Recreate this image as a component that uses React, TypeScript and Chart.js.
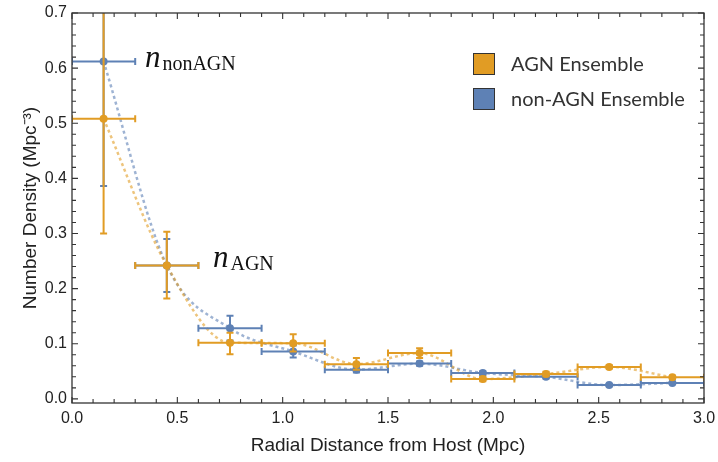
import React, { useEffect, useRef } from "react";
import { Chart, registerables } from "chart.js";

Chart.register(...registerables);

// ---- data ----
const binCenters = [0.15, 0.45, 0.75, 1.05, 1.35, 1.65, 1.95, 2.25, 2.55, 2.85];
const binLow = [0.0, 0.3, 0.6, 0.9, 1.2, 1.5, 1.8, 2.1, 2.4, 2.7];
const binHigh = [0.3, 0.6, 0.9, 1.2, 1.5, 1.8, 2.1, 2.4, 2.7, 3.0];

const agnDensity = [0.508, 0.242, 0.102, 0.101, 0.063, 0.083, 0.036, 0.045, 0.058, 0.039];
const agnLow = [0.3, 0.182, 0.081, 0.086, 0.053, 0.074, 0.032, 0.041, 0.055, 0.036];
const agnHigh = [0.716, 0.303, 0.12, 0.117, 0.074, 0.092, 0.04, 0.049, 0.061, 0.042];

const nonAgnDensity = [0.612, 0.242, 0.128, 0.086, 0.053, 0.064, 0.047, 0.04, 0.025, 0.029];
const nonAgnLow = [0.386, 0.194, 0.106, 0.075, 0.048, 0.06, 0.043, 0.037, 0.023, 0.027];
const nonAgnHigh = [0.838, 0.29, 0.151, 0.097, 0.058, 0.068, 0.05, 0.043, 0.027, 0.031];

const xTicks = [0, 0.5, 1.0, 1.5, 2.0, 2.5, 3.0];
const yTicks = [0, 0.1, 0.2, 0.3, 0.4, 0.5, 0.6, 0.7];
const xMinorStep = 0.1;
const yMinorStep = 0.02;

const seriesNames = ["AGN Ensemble", "non-AGN Ensemble"];
const annotations = [
  { x: 0.346, y: 0.602, main: "n", sub: "nonAGN" },
  { x: 0.669, y: 0.24, main: "n", sub: "AGN" },
];

const xTitle = "Radial Distance from Host (Mpc)";
const yTitle = "Number Density (Mpc\u207B\u00B3)";

// ---- styles ----
const ORANGE = "#E19C24";
const BLUE = "#5E81B5";
const ORANGE_DOT = "rgba(225,156,36,0.6)";
const BLUE_DOT = "rgba(94,129,181,0.6)";
const SANS = '"Liberation Sans", Arial, Helvetica, sans-serif';
const SERIF = '"Liberation Serif", "DejaVu Serif", serif';

const errorBarPlugin = {
  id: "errorBars",
  beforeDatasetDraw(chart: any, args: any) {
    const ds: any = chart.data.datasets[args.index];
    if (!ds.errLow) return;
    const xs = chart.scales.x;
    const ys = chart.scales.y;
    const area = chart.chartArea;
    const ctx = chart.ctx;
    ctx.save();
    ctx.beginPath();
    ctx.rect(area.left, area.top, area.right - area.left, area.bottom - area.top);
    ctx.clip();
    ctx.strokeStyle = ds.barColor;
    ctx.lineWidth = 2;
    const cap = 3.5;
    for (let i = 0; i < ds.data.length; i++) {
      const p = ds.data[i];
      const cx = xs.getPixelForValue(p.x);
      const cy = ys.getPixelForValue(p.y);
      const x1 = xs.getPixelForValue(ds.xLow[i]);
      const x2 = xs.getPixelForValue(ds.xHigh[i]);
      const y1 = ys.getPixelForValue(ds.errLow[i]);
      const y2 = ys.getPixelForValue(ds.errHigh[i]);
      ctx.beginPath();
      ctx.moveTo(x1, cy);
      ctx.lineTo(x2, cy);
      ctx.moveTo(x1, cy - cap);
      ctx.lineTo(x1, cy + cap);
      ctx.moveTo(x2, cy - cap);
      ctx.lineTo(x2, cy + cap);
      ctx.moveTo(cx, y1);
      ctx.lineTo(cx, y2);
      ctx.moveTo(cx - cap, y1);
      ctx.lineTo(cx + cap, y1);
      ctx.moveTo(cx - cap, y2);
      ctx.lineTo(cx + cap, y2);
      ctx.stroke();
    }
    ctx.restore();
  },
};

const framePlugin = {
  id: "frame",
  afterDatasetsDraw(chart: any) {
    const ctx = chart.ctx;
    const xs = chart.scales.x;
    const ys = chart.scales.y;
    const { left, right, top, bottom } = chart.chartArea;
    ctx.save();
    ctx.strokeStyle = "#333";
    ctx.lineWidth = 1.3;
    ctx.strokeRect(left, top, right - left, bottom - top);
    ctx.lineWidth = 1.1;
    ctx.beginPath();
    // x ticks
    const nx = Math.round((xs.max - xs.min) / xMinorStep);
    for (let i = 0; i <= nx; i++) {
      const v = xs.min + i * xMinorStep;
      const px = xs.getPixelForValue(v);
      const isMajor = xTicks.some((t) => Math.abs(t - v) < 1e-6);
      const len = isMajor ? 6 : 4;
      ctx.moveTo(px, bottom);
      ctx.lineTo(px, bottom - len);
      ctx.moveTo(px, top);
      ctx.lineTo(px, top + len);
    }
    const ny = Math.round(0.7 / yMinorStep);
    for (let i = 0; i <= ny; i++) {
      const v = i * yMinorStep;
      const py = ys.getPixelForValue(v);
      const isMajor = yTicks.some((t) => Math.abs(t - v) < 1e-6);
      const len = isMajor ? 6 : 4;
      ctx.moveTo(left, py);
      ctx.lineTo(left + len, py);
      ctx.moveTo(right, py);
      ctx.lineTo(right - len, py);
    }
    ctx.stroke();
    ctx.restore();
  },
};

const labelsPlugin = {
  id: "labels",
  afterDraw(chart: any) {
    const ctx = chart.ctx;
    const xs = chart.scales.x;
    const ys = chart.scales.y;
    ctx.save();
    ctx.fillStyle = "#111";
    ctx.textBaseline = "alphabetic";
    ctx.textAlign = "left";
    for (const a of annotations) {
      const px = xs.getPixelForValue(a.x);
      const py = ys.getPixelForValue(a.y);
      ctx.font = `italic 31px ${SERIF}`;
      ctx.fillText(a.main, px, py);
      const w = ctx.measureText(a.main).width;
      ctx.font = `20px ${SERIF}`;
      ctx.fillText(a.sub, px + w + 2, py + 3);
    }
    // legend
    const colors = [ORANGE, BLUE];
    const sx = chart.chartArea.right - 231;
    const sy = chart.chartArea.top + 40;
    const size = 22;
    const gap = 35;
    ctx.font = `20px Lato, "Open Sans", sans-serif`;
    ctx.textBaseline = "middle";
    for (let i = 0; i < seriesNames.length; i++) {
      const y = sy + i * gap;
      ctx.fillStyle = colors[i];
      ctx.fillRect(sx, y, size, size);
      ctx.strokeStyle = "#333";
      ctx.lineWidth = 1;
      ctx.strokeRect(sx + 0.5, y + 0.5, size - 1, size - 1);
      ctx.fillStyle = "#333";
      ctx.fillText(seriesNames[i], sx + 38, y + size / 2 + 1);
    }
    ctx.restore();
  },
};

function toPoints(xs: number[], ys: number[]) {
  return xs.map((x, i) => ({ x, y: ys[i] }));
}

export default function App() {
  const ref = useRef<HTMLCanvasElement | null>(null);
  useEffect(() => {
    if (!ref.current) return;
    const chart = new Chart(ref.current, {
      type: "scatter",
      data: {
        datasets: [
          {
            label: seriesNames[0],
            data: toPoints(binCenters, agnDensity),
            backgroundColor: ORANGE,
            borderColor: ORANGE,
            pointRadius: 4,
            pointBorderWidth: 0,
            order: 0,
            errLow: agnLow,
            errHigh: agnHigh,
            xLow: binLow,
            xHigh: binHigh,
            barColor: ORANGE,
          } as any,
          {
            label: seriesNames[1],
            data: toPoints(binCenters, nonAgnDensity),
            backgroundColor: BLUE,
            borderColor: BLUE,
            pointRadius: 4,
            pointBorderWidth: 0,
            order: 1,
            errLow: nonAgnLow,
            errHigh: nonAgnHigh,
            xLow: binLow,
            xHigh: binHigh,
            barColor: BLUE,
          } as any,
          {
            label: "AGN fit",
            data: toPoints(binCenters, agnDensity),
            showLine: true,
            borderColor: ORANGE_DOT,
            borderWidth: 2.5,
            borderDash: [3, 3],
            pointRadius: 0,
            cubicInterpolationMode: "monotone",
            order: 2,
          } as any,
          {
            label: "non-AGN fit",
            data: toPoints(binCenters, nonAgnDensity),
            showLine: true,
            borderColor: BLUE_DOT,
            borderWidth: 2.5,
            borderDash: [3, 3],
            pointRadius: 0,
            cubicInterpolationMode: "monotone",
            order: 3,
          } as any,
        ],
      },
      options: {
        animation: false,
        responsive: false,
        maintainAspectRatio: false,
        layout: { padding: { top: 13, right: 14, left: 0, bottom: 0 } },
        plugins: { legend: { display: false }, tooltip: { enabled: false } },
        scales: {
          x: {
            type: "linear",
            min: 0,
            max: 3,
            afterBuildTicks: (s: any) => {
              s.ticks = xTicks.map((v) => ({ value: v }));
            },
            afterFit: (s: any) => {
              s.height = 59;
              s.paddingLeft = 0;
              s.paddingRight = 0;
            },
            ticks: {
              callback: (v: any) => Number(v).toFixed(1),
              font: { family: SANS, size: 16 },
              color: "#222",
              padding: 6,
              maxRotation: 0,
              autoSkip: false,
            },
            grid: { display: false, drawTicks: false },
            border: { display: false },
            title: {
              display: true,
              text: xTitle,
              font: { family: SANS, size: 19 },
              color: "#222",
              padding: { top: 0, bottom: 5 },
            },
          },
          y: {
            type: "linear",
            min: -0.0075,
            max: 0.7,
            afterBuildTicks: (s: any) => {
              s.ticks = yTicks.map((v) => ({ value: v }));
            },
            afterFit: (s: any) => {
              s.width = 72;
              s.paddingTop = 0;
              s.paddingBottom = 0;
            },
            ticks: {
              callback: (v: any) => Number(v).toFixed(1),
              font: { family: SANS, size: 16 },
              color: "#222",
              padding: 5,
              autoSkip: false,
            },
            grid: { display: false, drawTicks: false },
            border: { display: false },
            title: {
              display: true,
              text: yTitle,
              font: { family: SANS, size: 19 },
              color: "#222",
              padding: { top: 19, bottom: 0 },
            },
          },
        },
      } as any,
      plugins: [errorBarPlugin, framePlugin, labelsPlugin],
    });
    return () => chart.destroy();
  }, []);

  return (
    <div style={{ position: "absolute", left: 0, top: 0, width: 718, height: 462, background: "#fff" }}>
      <canvas ref={ref} width={718} height={462} style={{ display: "block" }} />
    </div>
  );
}
